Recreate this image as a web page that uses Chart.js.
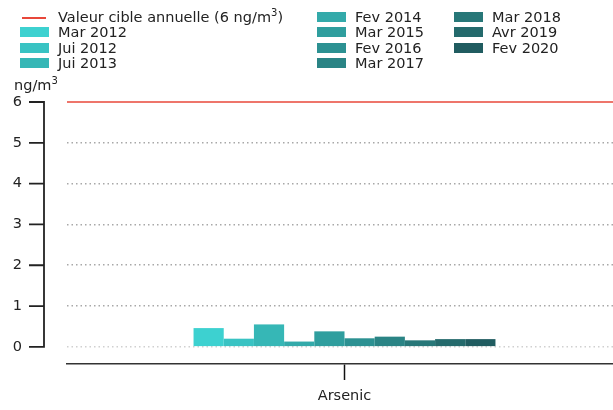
<!DOCTYPE html>
<html lang="fr">
<head>
  <meta charset="UTF-8">
  <title>Arsenic</title>
  <script src="https://cdn.jsdelivr.net/npm/chart.js"></script>
  <style>
    body {
      margin: 0;
      background: #fff;
      font-family: 'DejaVu Sans', sans-serif;
    }
    .wrap {
      position: relative;
      width: 613px;
      height: 410px;
      overflow: hidden;
    }
    canvas {
      position: absolute;
      left: 0;
      top: 0;
    }
    sup {
      font-size: 10px;
      line-height: 0;
    }
    .leg {
      position: absolute;
      font-size: 14.5px;
      line-height: 15px;
      color: #222;
      white-space: nowrap;
    }
    .leg .patch {
      position: absolute;
      left: 0;
      top: 2px;
      width: 29px;
      height: 10px;
    }
    .leg .line {
      position: absolute;
      left: 2px;
      top: 7px;
      width: 24px;
      height: 2px;
      background: #e8473a;
    }
    .leg span.txt {
      position: absolute;
      left: 38px;
      top: 0;
    }
    .unit {
      position: absolute;
      left: 14px;
      top: 78px;
      font-size: 14.5px;
      line-height: 15px;
      color: #222;
    }
  </style>
</head>
<body>
  <div class="wrap">
    <canvas id="chart" width="622" height="410"></canvas>
    <div class="unit">ng/m<sup>3</sup></div>
    <div id="legend"></div>
  </div>

  <script>
    const categories = ['Arsenic'];
    const seriesNames = ['Mar 2012', 'Jui 2012', 'Jui 2013', 'Fev 2014', 'Mar 2015',
                         'Fev 2016', 'Mar 2017', 'Mar 2018', 'Avr 2019', 'Fev 2020'];
    const seriesValues = [0.46, 0.2, 0.55, 0.13, 0.38, 0.21, 0.25, 0.16, 0.19, 0.19];
    const seriesColors = ['#3dd1d0', '#39c3c3', '#36b7b6', '#33aaaa', '#2f9e9e',
                          '#2c9192', '#2a8485', '#277778', '#246a6c', '#205c60'];
    const yTicks = [0, 1, 2, 3, 4, 5, 6];
    const targetValue = 6;
    const targetLabel = 'Valeur cible annuelle (6 ng/m<sup>3</sup>)';

    // legend in 3 columns, like the original
    const legendCols = [
      { x: 20, items: ['target', 0, 1, 2] },
      { x: 317, items: [3, 4, 5, 6] },
      { x: 454, items: [7, 8, 9] }
    ];
    const legendEl = document.getElementById('legend');
    legendCols.forEach(col => {
      col.items.forEach((it, row) => {
        const d = document.createElement('div');
        d.className = 'leg';
        d.style.left = col.x + 'px';
        d.style.top = (10 + row * 15.3) + 'px';
        if (it === 'target') {
          d.innerHTML = '<div class="line"></div><span class="txt">' + targetLabel + '</span>';
        } else {
          d.innerHTML = '<div class="patch" style="background:' + seriesColors[it] + '"></div><span class="txt">' + seriesNames[it] + '</span>';
        }
        legendEl.appendChild(d);
      });
    });

    // y spine (offset, bounded 0..6), its ticks, and the target line
    const extras = {
      id: 'extras',
      afterDatasetsDraw(chart) {
        const ctx = chart.ctx;
        const y = chart.scales.y;
        const area = chart.chartArea;
        const sx = area.left - 23;
        ctx.save();
        ctx.strokeStyle = '#e8473a';
        ctx.lineWidth = 1.5;
        ctx.beginPath();
        ctx.moveTo(area.left, y.getPixelForValue(targetValue));
        ctx.lineTo(area.right, y.getPixelForValue(targetValue));
        ctx.stroke();

        ctx.strokeStyle = '#222';
        ctx.lineWidth = 1.8;
        ctx.beginPath();
        ctx.moveTo(sx, y.getPixelForValue(yTicks[0]));
        ctx.lineTo(sx, y.getPixelForValue(yTicks[yTicks.length - 1]));
        yTicks.forEach(v => {
          const py = y.getPixelForValue(v);
          ctx.moveTo(sx - 15, py);
          ctx.lineTo(sx + 0.9, py);
        });
        ctx.stroke();
        ctx.restore();
      }
    };

    Chart.defaults.font.family = "'DejaVu Sans', sans-serif";
    Chart.defaults.font.size = 14.5;
    Chart.defaults.color = '#222';

    new Chart(document.getElementById('chart'), {
      type: 'bar',
      data: {
        labels: categories,
        datasets: seriesNames.map((name, i) => ({
          label: name,
          data: [seriesValues[i]],
          backgroundColor: seriesColors[i],
          borderWidth: 0,
          categoryPercentage: 0.544,
          barPercentage: 1
        }))
      },
      options: {
        responsive: false,
        animation: false,
        layout: { padding: { top: 102, left: 0, right: 0, bottom: 0 } },
        plugins: {
          legend: { display: false },
          tooltip: { enabled: false }
        },
        scales: {
          x: {
            afterFit(scale) { scale.height = 46; },
            grid: {
              drawOnChartArea: false,
              drawTicks: true,
              offset: false,
              tickLength: 16,
              tickColor: '#111',
              tickWidth: 1.5
            },
            border: { color: '#333', width: 1.5 },
            ticks: { padding: 8, color: '#222' }
          },
          y: {
            min: -0.42,
            max: 6,
            afterFit(scale) {
              scale.width = 67;
              // the big label padding must not push the plot area vertically
              scale.paddingTop = 10;
              scale.paddingBottom = 10;
            },
            afterBuildTicks(scale) { scale.ticks = yTicks.map(v => ({ value: v })); },
            grid: {
              drawTicks: false,
              color: ctx => ctx.tick && ctx.tick.value === targetValue ? 'rgba(0,0,0,0)'
                : (ctx.tick && ctx.tick.value === 0 ? '#d0d0d0' : '#a8a8a8'),
              lineWidth: 1.5
            },
            border: { display: false, dash: [1.5, 3] },
            ticks: { padding: 45, color: '#222' }
          }
        }
      },
      plugins: [extras]
    });
  </script>
</body>
</html>
